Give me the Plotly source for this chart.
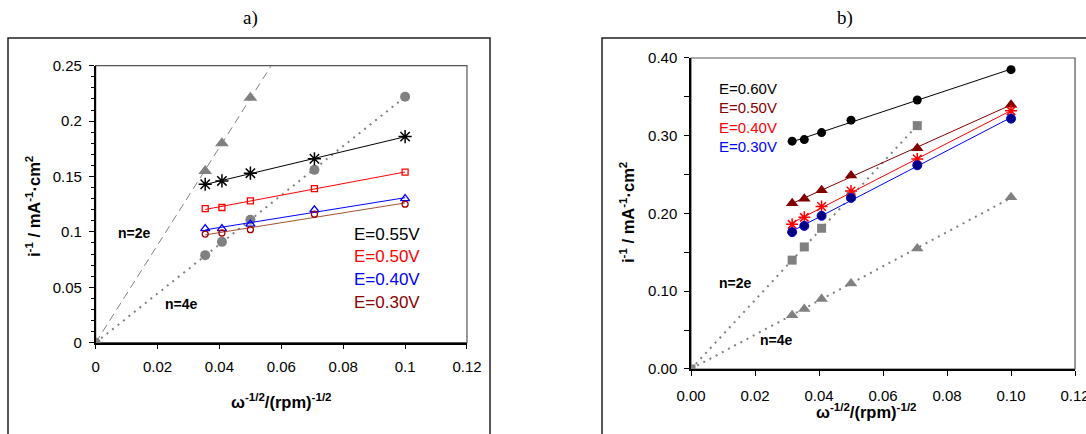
import numpy as np
import plotly.graph_objects as go

# ---------------- data: panel a ----------------
x_a = [0.0354, 0.0408, 0.05, 0.0707, 0.1]
a_055 = [0.143, 0.146, 0.153, 0.166, 0.186]
a_050 = [0.121, 0.122, 0.128, 0.139, 0.154]
a_040 = [0.103, 0.103, 0.107, 0.120, 0.130]
a_030 = [0.098, 0.099, 0.102, 0.116, 0.125]
a_4e_x = [0, 0.0354, 0.0408, 0.05, 0.0707, 0.1]
a_4e = [0, 0.079, 0.091, 0.111, 0.156, 0.222]
a_2e_x = [0, 0.0354, 0.0408, 0.05]
a_2e = [0, 0.155, 0.180, 0.221]

# ---------------- data: panel b ----------------
x_b = [0.0316, 0.0354, 0.0408, 0.05, 0.0707, 0.1]
b_060 = [0.293, 0.295, 0.304, 0.320, 0.346, 0.385]
b_050 = [0.213, 0.219, 0.230, 0.249, 0.284, 0.340]
b_040 = [0.186, 0.195, 0.209, 0.229, 0.270, 0.332]
b_030 = [0.176, 0.184, 0.197, 0.220, 0.262, 0.322]
b_2e_x = [0, 0.0316, 0.0354, 0.0408, 0.05, 0.0707]
b_2e = [0, 0.140, 0.157, 0.181, 0.222, 0.313]
b_4e_x = [0, 0.0316, 0.0354, 0.0408, 0.05, 0.0707, 0.1]
b_4e = [0, 0.069, 0.077, 0.090, 0.110, 0.155, 0.221]

labels_a = ["E=0.55V", "E=0.50V", "E=0.40V", "E=0.30V"]
labels_b = ["E=0.60V", "E=0.50V", "E=0.40V", "E=0.30V"]

FONT = "Liberation Sans, Arial, sans-serif"
GRAY = "#808080"
DARKRED = "#800000"

fig = go.Figure()


def fit_line(xs, ys):
    k, b = np.polyfit(xs, ys, 1)
    xx = np.array([xs[0], xs[-1]])
    return xx, k * xx + b


def origin_line(xs, ys, x_end):
    xs = np.array(xs, float)
    ys = np.array(ys, float)
    k = (xs * ys).sum() / (xs * xs).sum()
    xx = np.array([0.0, x_end])
    return xx, k * xx


def add_series(xs, ys, line_color, marker, xa, ya):
    lx, ly = fit_line(xs, ys)
    fig.add_trace(go.Scatter(x=lx, y=ly, mode="lines", line=dict(color=line_color, width=1),
                             xaxis=xa, yaxis=ya, showlegend=False, hoverinfo="skip"))
    fig.add_trace(go.Scatter(x=xs, y=ys, mode="markers", marker=marker,
                             xaxis=xa, yaxis=ya, showlegend=False))


# ---------- panel a ----------
lx, ly = origin_line(a_2e_x, a_2e, 0.26 / (a_2e[-1] / a_2e_x[-1]))
fig.add_trace(go.Scatter(x=lx, y=ly, mode="lines", line=dict(color=GRAY, width=1, dash="8px,5px"),
                         xaxis="x", yaxis="y", showlegend=False))
lx, ly = origin_line(a_4e_x, a_4e, a_4e_x[-1])
fig.add_trace(go.Scatter(x=lx, y=ly, mode="lines", line=dict(color=GRAY, width=2, dash="2px,5px"),
                         xaxis="x", yaxis="y", showlegend=False))
fig.add_trace(go.Scatter(x=a_2e_x, y=a_2e, mode="markers",
                         marker=dict(symbol="triangle-up", size=12, color=GRAY),
                         xaxis="x", yaxis="y", showlegend=False))
fig.add_trace(go.Scatter(x=a_4e_x, y=a_4e, mode="markers",
                         marker=dict(symbol="circle", size=10, color=GRAY),
                         xaxis="x", yaxis="y", showlegend=False))

add_series(x_a, a_055, "black",
           dict(symbol="asterisk-open", size=11, color="black", line=dict(color="black", width=1.5)), "x", "y")
add_series(x_a, a_050, "red",
           dict(symbol="square-open", size=6, color="red", line=dict(color="red", width=1.3)), "x", "y")
add_series(x_a, a_040, "blue",
           dict(symbol="triangle-up-open", size=8, color="blue", line=dict(color="blue", width=1.3)), "x", "y")
add_series(x_a, a_030, "#A0522D",
           dict(symbol="circle-open", size=6, color="#A00000", line=dict(color="#A00000", width=1.3)), "x", "y")

# ---------- panel b ----------
lx, ly = origin_line(b_2e_x, b_2e, b_2e_x[-1])
fig.add_trace(go.Scatter(x=lx, y=ly, mode="lines", line=dict(color=GRAY, width=2, dash="2px,5px"),
                         xaxis="x2", yaxis="y2", showlegend=False))
lx, ly = origin_line(b_4e_x, b_4e, b_4e_x[-1])
fig.add_trace(go.Scatter(x=lx, y=ly, mode="lines", line=dict(color=GRAY, width=2, dash="2px,5px"),
                         xaxis="x2", yaxis="y2", showlegend=False))
fig.add_trace(go.Scatter(x=b_2e_x, y=b_2e, mode="markers",
                         marker=dict(symbol="square", size=9, color=GRAY),
                         xaxis="x2", yaxis="y2", showlegend=False))
fig.add_trace(go.Scatter(x=b_4e_x, y=b_4e, mode="markers",
                         marker=dict(symbol="triangle-up", size=11, color=GRAY),
                         xaxis="x2", yaxis="y2", showlegend=False))

add_series(x_b, b_060, "black", dict(symbol="circle", size=9, color="black"), "x2", "y2")
add_series(x_b, b_050, DARKRED, dict(symbol="triangle-up", size=11, color=DARKRED), "x2", "y2")
add_series(x_b, b_040, "red",
           dict(symbol="asterisk-open", size=10, color="red", line=dict(color="red", width=1.5)), "x2", "y2")
add_series(x_b, b_030, "blue",
           dict(symbol="circle", size=9, color="#000080", line=dict(color="#0000CC", width=1)), "x2", "y2")

# ---------- axes ----------
common_tick = dict(tickfont=dict(family=FONT, size=15, color="black"), showgrid=False, zeroline=False,
                   showline=True, linecolor="black", linewidth=1.5, ticks="outside",
                   tickcolor="black", ticklen=5, tickwidth=1, automargin=False,
                   ticklabeloverflow="allow")

fig.update_layout(
    template="none",
    width=1086, height=434, margin=dict(l=0, r=0, t=0, b=0, autoexpand=False),
    plot_bgcolor="white", paper_bgcolor="white",
    xaxis=dict(domain=[0.0881, 0.430], range=[0, 0.12], dtick=0.02, anchor="y",
               ticklabelstandoff=5, **common_tick),
    yaxis=dict(domain=[0.2104, 0.8486], range=[0, 0.25], dtick=0.05, anchor="x",
               ticklabelstandoff=4,
               minor=dict(dtick=0.01, ticks="outside", ticklen=3, tickcolor="black"), **common_tick),
    xaxis2=dict(domain=[0.6363, 0.9899], range=[0, 0.12], dtick=0.02, anchor="y2",
                tickformat=".2f", ticklabelstandoff=7, **common_tick),
    yaxis2=dict(domain=[0.1498, 0.8664], range=[0, 0.40], dtick=0.1, anchor="x2",
                tickformat=".2f", ticklabelstandoff=4,
                minor=dict(dtick=0.05, ticks="outside", ticklen=5, tickcolor="black"), **common_tick),
)

# plot-area borders (gray top/right) and outer chart frames
shapes = [
    dict(type="rect", xref="x domain", yref="y domain", x0=0, x1=1, y0=0, y1=1,
         line=dict(color="#555555", width=1.2), layer="below"),
    dict(type="rect", xref="x2 domain", yref="y2 domain", x0=0, x1=1, y0=0, y1=1,
         line=dict(color="#555555", width=1.2), layer="below"),
    dict(type="rect", xref="paper", yref="paper", x0=8 / 1086, x1=490 / 1086, y0=-0.1, y1=1 - 38 / 434,
         line=dict(color="#222222", width=1.5), layer="below"),
    dict(type="rect", xref="paper", yref="paper", x0=602 / 1086, x1=1.1, y0=-0.1, y1=1 - 38 / 434,
         line=dict(color="#222222", width=1.5), layer="below"),
]
fig.update_layout(shapes=shapes)

ann = []


def pa(text, px, py, size, family=FONT, angle=0):
    ann.append(dict(text=text, x=px / 1086, y=1 - py / 434, xref="paper", yref="paper", showarrow=False,
                    xanchor="center", yanchor="middle", textangle=angle,
                    font=dict(family=family, size=size, color="black")))


SERIF = "Liberation Serif, Times New Roman, serif"
pa("a)", 250, 18, 19, SERIF)
pa("b)", 845, 18, 19, SERIF)
xt = "<b>ω<sup>-1/2</sup>/(rpm)<sup>-1/2</sup></b>"
yt = "<b>i<sup>-1</sup> / mA<sup>-1</sup>·cm<sup>2</sup></b>"
pa(xt, 281, 401, 16.5)
pa(yt, 33, 207, 16.5, angle=-90)
pa(xt, 866, 411, 16.5)
pa(yt, 627, 213, 16.5, angle=-90)

# n labels
for t, x, y, xr, yr in [("n=2e", 0.0127, 0.099, "x", "y"), ("n=4e", 0.0276, 0.035, "x", "y"),
                        ("n=2e", 0.01375, 0.110, "x2", "y2"), ("n=4e", 0.0267, 0.0373, "x2", "y2")]:
    ann.append(dict(text="<b>" + t + "</b>", x=x, y=y, xref=xr, yref=yr, showarrow=False,
                    xanchor="center", yanchor="middle",
                    font=dict(family=FONT, size=14, color="black")))

# series labels
cols_a = ["black", "red", "blue", "#8B0000"]
ys_a = [0.0972, 0.0776, 0.0572, 0.0365]
for t, c, y in zip(labels_a, cols_a, ys_a):
    ann.append(dict(text=t, x=0.0829, y=y, xref="x", yref="y", xanchor="left", yanchor="middle",
                    showarrow=False, font=dict(family=FONT, size=17, color=c)))
cols_b = ["black", "#8B0000", "red", "blue"]
ys_b = [0.3605, 0.336, 0.311, 0.286]
for t, c, y in zip(labels_b, cols_b, ys_b):
    ann.append(dict(text=t, x=0.0080, y=y, xref="x2", yref="y2", xanchor="left", yanchor="middle",
                    showarrow=False, font=dict(family=FONT, size=15, color=c)))

fig.update_layout(annotations=ann)
fig.write_html("out.html")
